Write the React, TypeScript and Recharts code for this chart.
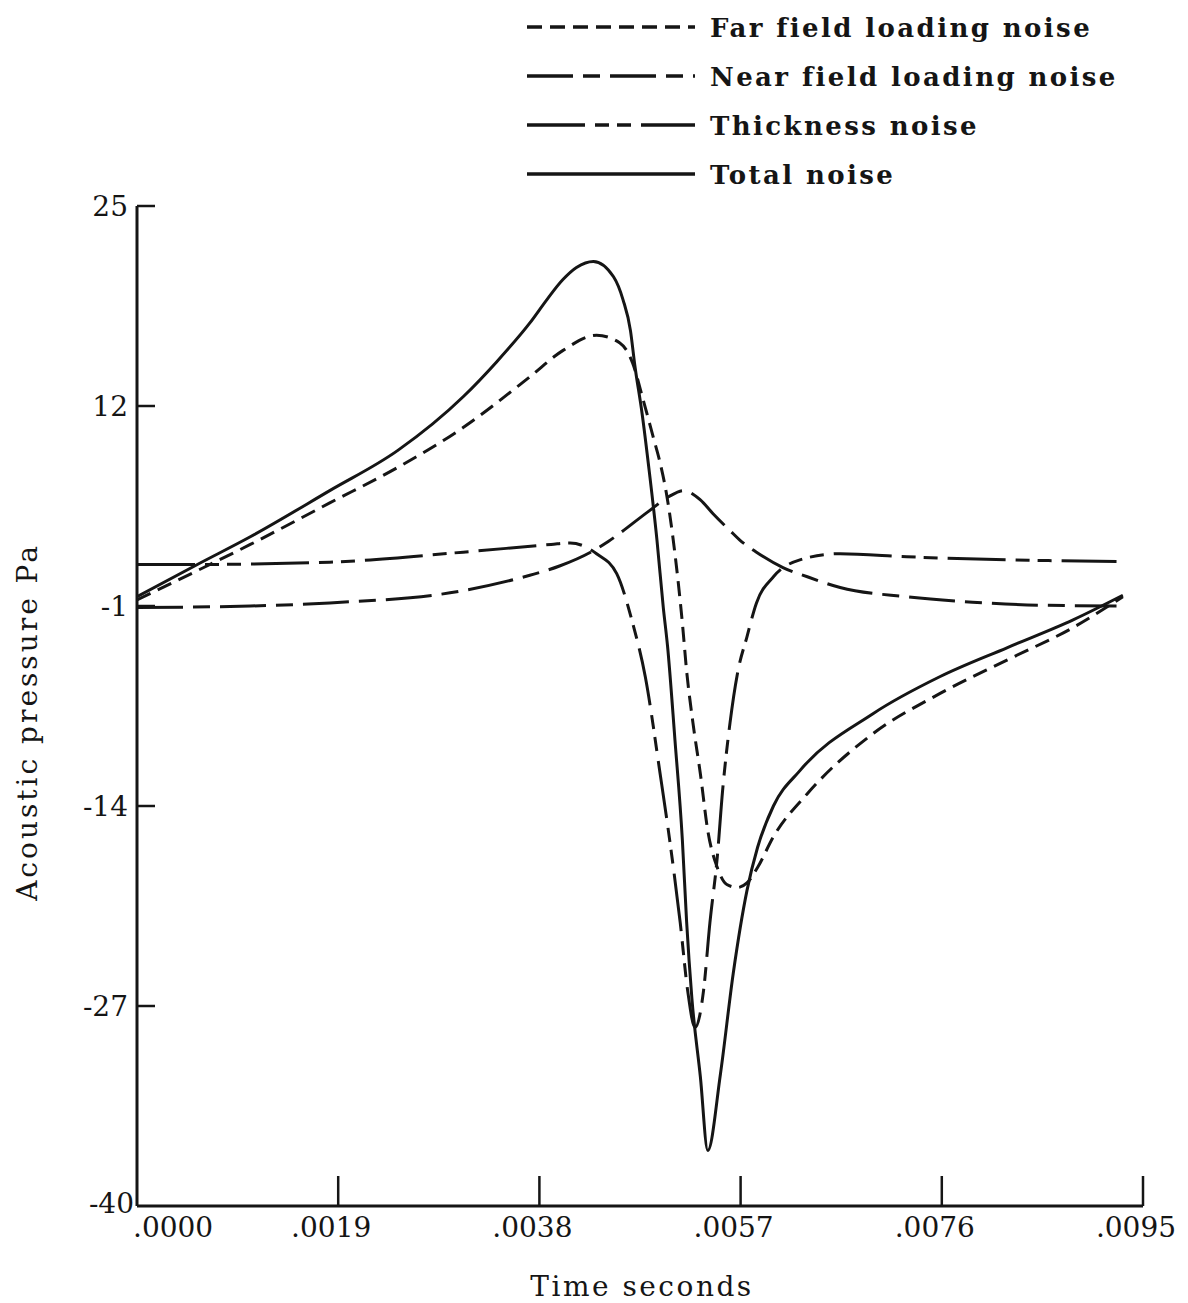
import { LineChart, Line, XAxis, YAxis, Legend, Label } from 'recharts'

type Pt = { t: number; v: number }

// axis ticks
const timeTicks = [0, 0.0019, 0.0038, 0.0057, 0.0076, 0.0095]
const timeLabels = ['.0000', '.0019', '.0038', '.0057', '.0076', '.0095']
const pressureTicks = [25, 12, -1, -14, -27, -40]

// series (t in seconds, v in Pa)
const farField: Pt[] = [
  { t: 0, v: -0.6 }, { t: 0.00057, v: 1.3 }, { t: 0.00107, v: 3.0 }, { t: 0.00182, v: 5.7 },
  { t: 0.00246, v: 8.0 }, { t: 0.00308, v: 10.6 }, { t: 0.00371, v: 13.9 }, { t: 0.00402, v: 15.6 },
  { t: 0.00434, v: 16.6 }, { t: 0.00456, v: 16.1 }, { t: 0.00468, v: 14.8 }, { t: 0.00478, v: 12.4 },
  { t: 0.00487, v: 10.1 }, { t: 0.00494, v: 8.3 }, { t: 0.005, v: 6.3 }, { t: 0.00508, v: 2.4 },
  { t: 0.00515, v: -2.1 }, { t: 0.00519, v: -5.2 }, { t: 0.00525, v: -8.6 }, { t: 0.00532, v: -11.9 },
  { t: 0.00539, v: -15.6 }, { t: 0.00548, v: -18.0 }, { t: 0.00557, v: -19.1 }, { t: 0.00567, v: -19.3 },
  { t: 0.00576, v: -19.0 }, { t: 0.00586, v: -18.0 }, { t: 0.00601, v: -16.0 }, { t: 0.00633, v: -13.2 },
  { t: 0.00695, v: -9.3 }, { t: 0.00758, v: -6.7 }, { t: 0.00822, v: -4.5 }, { t: 0.00884, v: -2.4 },
  { t: 0.00931, v: -0.4 },
]

const nearField: Pt[] = [
  { t: 0, v: -1.1 }, { t: 0.00107, v: -1.0 }, { t: 0.00182, v: -0.8 }, { t: 0.00308, v: 0.0 },
  { t: 0.00371, v: 1.0 }, { t: 0.00399, v: 1.6 }, { t: 0.00431, v: 2.6 }, { t: 0.00445, v: 3.2 },
  { t: 0.00484, v: 5.2 }, { t: 0.00502, v: 6.1 }, { t: 0.00516, v: 6.5 }, { t: 0.00532, v: 5.9 },
  { t: 0.00544, v: 5.0 }, { t: 0.0056, v: 3.9 }, { t: 0.00569, v: 3.3 }, { t: 0.00585, v: 2.5 },
  { t: 0.0061, v: 1.5 }, { t: 0.00633, v: 0.9 }, { t: 0.00664, v: 0.2 }, { t: 0.00727, v: -0.4 },
  { t: 0.00789, v: -0.75 }, { t: 0.00853, v: -0.95 }, { t: 0.00925, v: -1.0 },
]

const thickness: Pt[] = [
  { t: 0, v: 1.7 }, { t: 0.00057, v: 1.7 }, { t: 0.00182, v: 1.85 }, { t: 0.00308, v: 2.5 },
  { t: 0.00391, v: 3.0 }, { t: 0.00409, v: 3.1 }, { t: 0.00434, v: 2.4 }, { t: 0.00453, v: 1.1 },
  { t: 0.00468, v: -2.1 }, { t: 0.0048, v: -5.6 }, { t: 0.00494, v: -11.9 }, { t: 0.00503, v: -16.2 },
  { t: 0.00513, v: -21.6 }, { t: 0.0052, v: -26.0 }, { t: 0.00527, v: -28.4 }, { t: 0.00535, v: -26.0 },
  { t: 0.00541, v: -21.6 }, { t: 0.00548, v: -17.3 }, { t: 0.00553, v: -13.0 }, { t: 0.0056, v: -8.6 },
  { t: 0.00567, v: -5.4 }, { t: 0.00576, v: -3.0 }, { t: 0.00585, v: -0.8 }, { t: 0.00601, v: 0.9 },
  { t: 0.00626, v: 2.0 }, { t: 0.00664, v: 2.4 }, { t: 0.00727, v: 2.2 }, { t: 0.00822, v: 2.0 },
  { t: 0.00925, v: 1.9 },
]

const totalNoise: Pt[] = [
  { t: 0, v: -0.4 }, { t: 0.00057, v: 1.7 }, { t: 0.00107, v: 3.5 }, { t: 0.00182, v: 6.5 },
  { t: 0.00246, v: 9.1 }, { t: 0.00308, v: 12.6 }, { t: 0.0034, v: 14.9 }, { t: 0.00371, v: 17.4 },
  { t: 0.00388, v: 19.0 }, { t: 0.00402, v: 20.2 }, { t: 0.00415, v: 21.0 }, { t: 0.00431, v: 21.4 },
  { t: 0.0045, v: 20.4 }, { t: 0.00459, v: 18.9 }, { t: 0.00466, v: 16.9 }, { t: 0.0047, v: 14.7 },
  { t: 0.00477, v: 11.5 }, { t: 0.00484, v: 7.6 }, { t: 0.00491, v: 3.3 }, { t: 0.00497, v: -1.1 },
  { t: 0.00501, v: -3.6 }, { t: 0.00508, v: -9.7 }, { t: 0.00515, v: -16.2 }, { t: 0.00519, v: -21.5 },
  { t: 0.00524, v: -26.5 }, { t: 0.00532, v: -31.6 }, { t: 0.00539, v: -36.4 }, { t: 0.00551, v: -31.4 },
  { t: 0.00563, v: -24.9 }, { t: 0.00576, v: -19.5 }, { t: 0.00586, v: -16.7 }, { t: 0.00601, v: -14.0 },
  { t: 0.00626, v: -11.7 }, { t: 0.00695, v: -8.0 }, { t: 0.00758, v: -5.6 }, { t: 0.00822, v: -3.7 },
  { t: 0.00884, v: -1.9 }, { t: 0.00931, v: -0.3 },
]

const seriesNames = ['Far field loading noise', 'Near field loading noise', 'Thickness noise', 'Total noise']
const seriesData = [farField, nearField, thickness, totalNoise]
const seriesDash = ['15 8', '46 10 17 10', '58 10 14 8 14 10', undefined]

const INK = '#151515'
const FONT = '"DejaVu Serif", serif'

const XTick = (p: any) => {
  const { x, y, index } = p
  const first = index === 0
  return (
    <g>
      {!first && <line x1={x} y1={y} x2={x} y2={y - 30} stroke={INK} strokeWidth={2.5} />}
      <text x={first ? x - 4 : x - 7} y={y + 31} textAnchor={first ? 'start' : 'middle'}
        fontFamily={FONT} fontSize={28} fill={INK}>{timeLabels[index]}</text>
    </g>
  )
}

const YTick = (p: any) => {
  const { x, y, payload } = p
  const last = payload.value === -40
  return (
    <g>
      {!last && <line x1={x} y1={y} x2={x + 18} y2={y} stroke={INK} strokeWidth={2.5} />}
      <text x={last ? x - 3 : x - 9} y={last ? y - 3 : y} textAnchor="end" dominantBaseline="central"
        fontFamily={FONT} fontSize={28} fill={INK}>{payload.value}</text>
    </g>
  )
}

const LegendBox = () => (
  <svg width={660} height={200}>
    {seriesNames.map((name, i) => {
      const cy = 27 + i * 49
      return (
        <g key={name}>
          <line x1={7} y1={cy} x2={175} y2={cy} stroke={INK} strokeWidth={3.5} strokeDasharray={seriesDash[i]} />
          <text x={190} y={cy + 10} fontFamily={FONT} fontSize={26} fontWeight="bold" letterSpacing={2.4} fill={INK}>{name}</text>
        </g>
      )
    })}
  </svg>
)

export default function App() {
  return (
    <div style={{ position: 'absolute', left: 0, top: 0, width: 1188, height: 1303, background: '#fff' }}>
      <LineChart width={1188} height={1303} margin={{ top: 206, right: 45, bottom: 57, left: 77 }}>
        <XAxis dataKey="t" type="number" domain={[0, 0.0095]} ticks={timeTicks} interval={0}
          allowDataOverflow height={40} tickSize={0} tickMargin={0} tickLine={false}
          axisLine={{ stroke: INK, strokeWidth: 3 }} tick={(p: any) => <XTick {...p} />}>
          <Label content={() => (
            <text x={642} y={1296} textAnchor="middle" fontFamily={FONT} fontSize={28} letterSpacing={2.5} fill={INK}>Time seconds</text>
          )} />
        </XAxis>
        <YAxis type="number" domain={[-40, 25]} ticks={pressureTicks} interval={0} allowDataOverflow
          width={60} tickSize={0} tickMargin={0} tickLine={false}
          axisLine={{ stroke: INK, strokeWidth: 3 }} tick={(p: any) => <YTick {...p} />}>
          <Label content={() => (
            <text x={27} y={722} transform="rotate(-90, 27, 722)" textAnchor="middle" dominantBaseline="central"
              fontFamily={FONT} fontSize={28} letterSpacing={3} fill={INK}>Acoustic pressure Pa</text>
          )} />
        </YAxis>
        <Legend layout="vertical" align="center" verticalAlign="middle" content={() => <LegendBox />}
          wrapperStyle={{ top: 0, left: 520, width: 660, height: 200 }} />
        {seriesNames.map((name, i) => (
          <Line key={name} name={name} data={seriesData[i]} dataKey="v" type="monotone" dot={false}
            stroke={INK} strokeWidth={3} strokeDasharray={seriesDash[i]} isAnimationActive={false} />
        ))}
      </LineChart>
    </div>
  )
}
